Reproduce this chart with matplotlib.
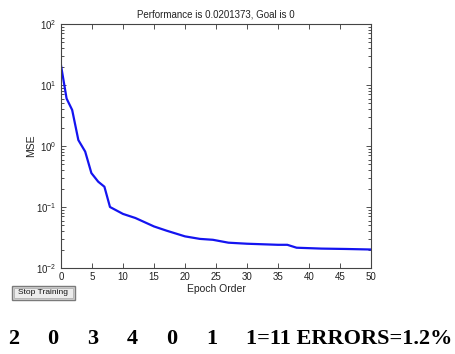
import numpy as np
import matplotlib
matplotlib.use("Agg")
import matplotlib.pyplot as plt
from matplotlib.patches import Rectangle
from matplotlib.ticker import LogLocator, FixedLocator, FuncFormatter, NullFormatter

plt.rcParams['font.family'] = ['Liberation Sans', 'DejaVu Sans']
plt.rcParams['mathtext.default'] = 'regular'

# training record: epoch vs mean squared error
epochs = [0, 0.9, 1.8, 2.8, 3.9, 4.9, 6, 7, 7.9, 10, 12, 15, 17, 20,
          22.4, 24.5, 27, 30, 35, 36.5, 38, 42, 46, 50]
mse = [21, 6.0, 3.9, 1.25, 0.81, 0.36, 0.26, 0.215, 0.1, 0.077, 0.066,
       0.048, 0.041, 0.033, 0.030, 0.029, 0.026, 0.025, 0.024, 0.024,
       0.0215, 0.0208, 0.0205, 0.0201]
performance = 0.0201373
goal = 0

x_ticks = list(range(0, 51, 5))
bottom_labels = ['2', '0', '3', '4', '0', '1', '1=11 ERRORS=1.2%']
bottom_x = [8, 47, 87, 127, 166, 206, 246]

W, H = 456, 354
fig = plt.figure(figsize=(W / 100, H / 100), dpi=100)
ax = fig.add_axes([61 / W, (H - 268) / H, 310 / W, 244 / H])

ax.semilogy(epochs, mse, color='#1414f0', lw=1.6)
ax.set_xlim(0, 50)
ax.set_ylim(1e-2, 1e2)

ax.xaxis.set_major_locator(FixedLocator(x_ticks))
ax.yaxis.set_major_locator(LogLocator(base=10, numticks=10))
ax.yaxis.set_minor_locator(LogLocator(base=10, subs=np.arange(2, 10), numticks=10))
ax.yaxis.set_minor_formatter(NullFormatter())
ax.yaxis.set_major_formatter(FuncFormatter(lambda v, p: r'$10^{%d}$' % round(np.log10(v))))

ax.tick_params(which='both', direction='in', top=True, right=True,
               labelsize=7, color='#333333', labelcolor='#222222', width=0.6)
ax.tick_params(which='major', length=3.5, pad=3)
ax.tick_params(which='minor', length=2)
for s in ax.spines.values():
    s.set_color('#444444')
    s.set_linewidth(0.8)

ax.set_title('Performance is %g, Goal is %d' % (performance, goal),
             fontsize=7, color='#222222', pad=5)
ax.set_xlabel('Epoch Order', fontsize=7.5, color='#222222', labelpad=1)
ax.set_ylabel('MSE', fontsize=7.5, color='#222222', labelpad=0)

# "Stop Training" button
bx0, by0, bw, bh = 12, 286, 63, 14
fig.patches.append(Rectangle((bx0 / W, (H - by0 - bh) / H), bw / W, bh / H,
                             transform=fig.transFigure, facecolor='#d8d8d8',
                             edgecolor='#7a7a7a', lw=1.0))
fig.patches.append(Rectangle(((bx0 + 2) / W, (H - by0 - bh + 2) / H), (bw - 4) / W, (bh - 4) / H,
                             transform=fig.transFigure, facecolor='#ececec',
                             edgecolor='#b0b0b0', lw=0.6))
fig.text((bx0 + bw / 2) / W, (H - by0 - bh / 2) / H, 'Stop Training',
         fontsize=6, ha='center', va='center', color='#111111')

for lab, xp in zip(bottom_labels, bottom_x):
    fig.text(xp / W, (H - 339) / H, lab, fontsize=16, fontweight='bold',
             family=['Liberation Serif', 'DejaVu Serif'], ha='left', va='center')

fig.savefig('out.png', dpi=100)
